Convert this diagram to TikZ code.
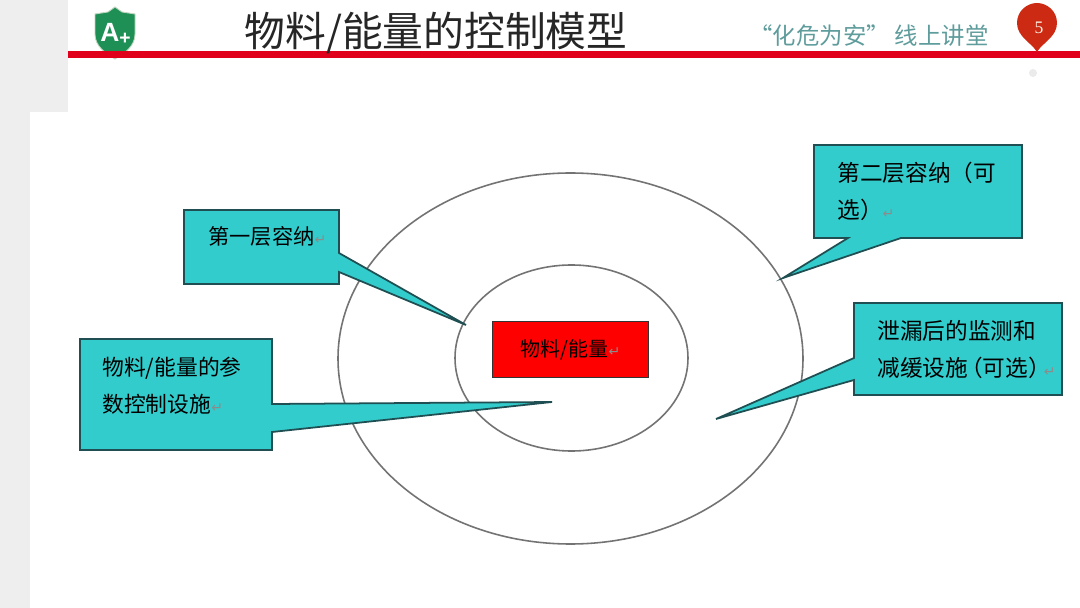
\documentclass[tikz,border=0pt]{standalone}
\usepackage{fontspec}
\setmainfont{Noto Sans CJK SC}
\newfontfamily\symfont{DejaVu Sans}
\newfontfamily\numfont{Liberation Serif}
\newfontfamily\logofont{Liberation Sans}
\usepackage{xcolor}
\usetikzlibrary{positioning}
\definecolor{calloutfill}{HTML}{33CCCC}
\definecolor{calloutline}{HTML}{1F4F52}
\definecolor{sidegray}{HTML}{EEEEEE}
\definecolor{ruled}{HTML}{E0001B}
\definecolor{pinred}{HTML}{CC2A12}
\definecolor{shieldgreen}{HTML}{1F9055}
\definecolor{headteal}{HTML}{5F9C9C}
\newcommand{\retmark}{{\symfont\color{black!45}\fontsize{8}{8}\selectfont ↵}}
\begin{document}
\begin{tikzpicture}[x=0.02cm,y=-0.02cm,
  callout/.style={draw=calloutline,fill=calloutfill,line width=1pt,line join=miter},
  ring/.style={draw=black!55,line width=0.9pt},
  boxtext/.style={anchor=north west,inner sep=0pt,align=left,text=black,font=\fontsize{12.4}{21}\selectfont}]
\useasboundingbox (0,0) rectangle (1080,608);
\fill[white] (0,0) rectangle (1080,608);
\fill[sidegray] (0,0) rectangle (68,112);
\fill[sidegray] (0,112) rectangle (30,608);
% header
\fill[shieldgreen,draw=green!35!black!25,line width=0.5pt] (115,7) -- (122,12) -- (135,14) -- (135,34) .. controls (135,46) and (125,53) .. (115,59) .. controls (105,53) and (95,46) .. (95,34) -- (95,14) -- (108,12) -- cycle;
\node[inner sep=0pt,text=white,font=\logofont\bfseries\fontsize{15}{15}\selectfont] (logoa) at (110,32) {A};
\node[inner sep=0pt,text=white,font=\logofont\bfseries\fontsize{11}{11}\selectfont] (logoplus) at (125,39) {+};
\fill[ruled] (68,51) rectangle (1080,58);
\node[inner sep=0pt,text=black!85,font=\fontsize{23.2}{23}\selectfont] (title) at (436,33) {物料/能量的控制模型};
\node[inner sep=0pt,text=headteal,font=\fontsize{13.3}{13}\selectfont] (course) at (869,36) {“化危为安” 线上讲堂};
\fill[pinred] (1037,52) .. controls (1032,43) and (1017,37) .. (1017,23) .. controls (1017,11) and (1027,3) .. (1037,3) .. controls (1047,3) and (1057,11) .. (1057,23) .. controls (1057,37) and (1042,43) .. (1037,52) -- cycle;
\node[inner sep=0pt,text=white!90!orange,font=\numfont\fontsize{10}{10}\selectfont] (pagenum) at (1039,28) {5};
\fill[black!8] (1033,73) circle (4);
% rings
\draw[ring] (570.5,358.5) ellipse (232.5 and 185.5);
\draw[ring] (571.5,358) ellipse (116.5 and 93);
% centre
\node[draw=black!80,fill=red,line width=1pt,minimum width=3.12cm,minimum height=1.12cm,inner sep=0pt,font=\fontsize{11.4}{12}\selectfont,text=black] (stuff) at (570.5,349.5) {物料/能量\retmark};
% callouts
\draw[callout] (184,210) -- (339,210) -- (339,253) -- (466,325) -- (339,272) -- (339,284) -- (184,284) -- cycle;
\node[boxtext,font=\fontsize{12.1}{21}\selectfont] (layerone) at (208,226) {第一层容纳\retmark};
\draw[callout] (80,339) -- (272,339) -- (272,404) -- (552,402) -- (272,432) -- (272,450) -- (80,450) -- cycle;
\node[boxtext] (param) at (102,357) {物料/能量的参\\数控制设施\retmark};
\draw[callout] (814,145) -- (1022,145) -- (1022,238) -- (901,238) -- (783,278) -- (848,238) -- (814,238) -- cycle;
\node[boxtext,font=\fontsize{12.9}{21}\selectfont] (layertwo) at (837,162) {第二层容纳（可\\选）\retmark};
\draw[callout] (854,303) -- (1062,303) -- (1062,395) -- (854,395) -- (854,380) -- (716,419) -- (854,358) -- cycle;
\node[boxtext,font=\fontsize{12.9}{21}\selectfont] (monitor) at (877,320) {泄漏后的监测和\\减缓设施\kern-0.35em（可选）\kern-0.3em\retmark};
\end{tikzpicture}
\end{document}
